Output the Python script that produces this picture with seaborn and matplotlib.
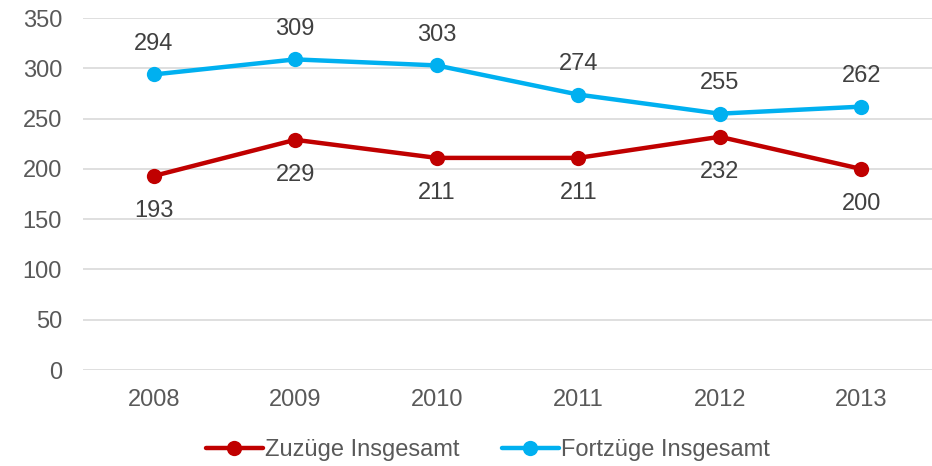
import matplotlib
matplotlib.use('Agg')
import matplotlib.pyplot as plt
import seaborn as sns
import pandas as pd

years = ['2008', '2009', '2010', '2011', '2012', '2013']
zuzuege = [193, 229, 211, 211, 232, 200]
fortzuege = [294, 309, 303, 274, 255, 262]
series_names = ['Zuzüge Insgesamt', 'Fortzüge Insgesamt']
colors = ['#C00000', '#00B0F0']

sns.set_theme(style='white')
plt.rcParams['font.family'] = ['Liberation Sans', 'DejaVu Sans']

df = pd.DataFrame({
    'Jahr': years * 2,
    'Wert': zuzuege + fortzuege,
    'Serie': [series_names[0]] * len(years) + [series_names[1]] * len(years),
})

fig = plt.figure(figsize=(9.32, 4.66), dpi=100)
ax = fig.add_axes([0.089, 0.206, 0.911, 0.755])

sns.lineplot(data=df, x='Jahr', y='Wert', hue='Serie', palette=colors,
             marker='o', markersize=11, markeredgewidth=0, linewidth=3.2,
             sort=False, ax=ax)

fs = 17
for i, v in enumerate(zuzuege):
    ax.annotate(str(v), (i, v), xytext=(0, -25), textcoords='offset points',
                ha='center', va='center', fontsize=fs, color='#404040')
for i, v in enumerate(fortzuege):
    ax.annotate(str(v), (i, v), xytext=(0, 22), textcoords='offset points',
                ha='center', va='center', fontsize=fs, color='#404040')

ax.set_xlim(-0.5, len(years) - 0.5)
ax.set_ylim(0, 350)
ax.set_yticks(range(0, 351, 50))
ax.yaxis.grid(True, color='#D9D9D9', linewidth=1.2)
ax.set_axisbelow(True)
for s in ax.spines.values():
    s.set_visible(False)
ax.tick_params(axis='both', labelsize=fs, labelcolor='#595959', length=0)
ax.tick_params(axis='x', pad=14)
ax.tick_params(axis='y', pad=15)
ax.set_xlabel('')
ax.set_ylabel('')

ax.legend(loc='center', bbox_to_anchor=(0.477, -0.227), ncol=2, frameon=False,
          fontsize=fs, labelcolor='#595959', handlelength=2.4, handletextpad=0.1,
          columnspacing=1.8)

fig.savefig('out.png', dpi=100)
plt.close(fig)
